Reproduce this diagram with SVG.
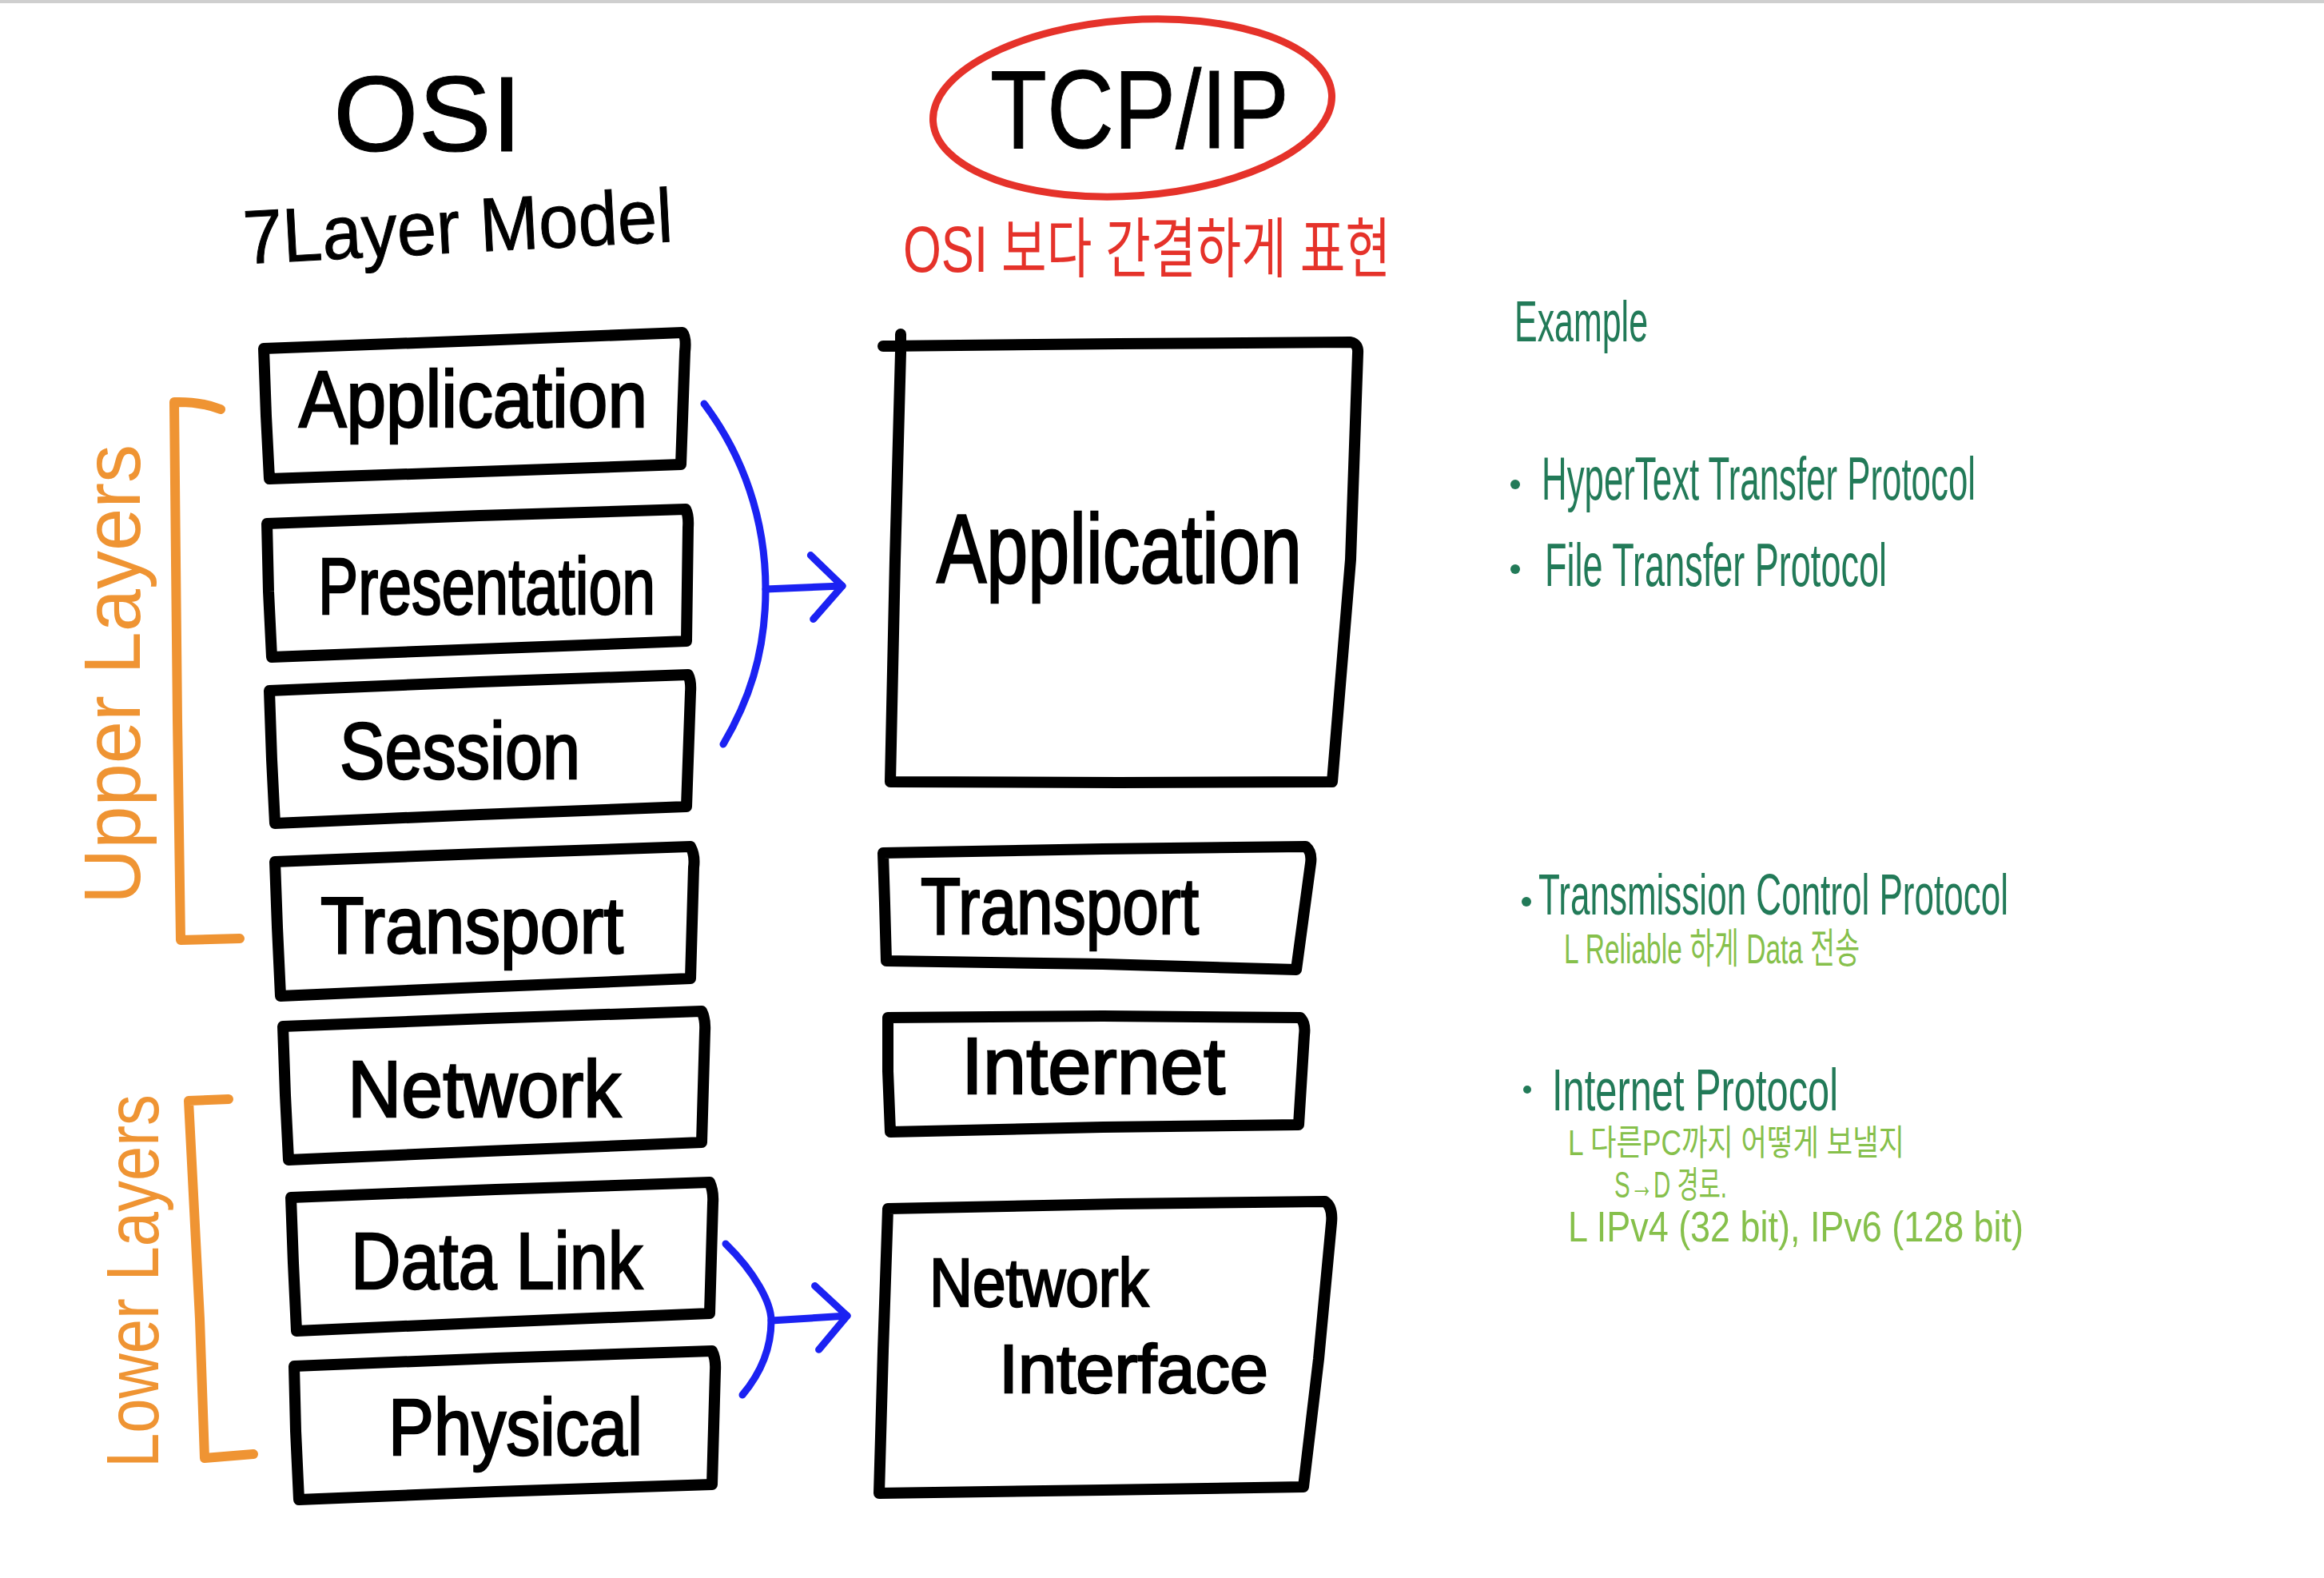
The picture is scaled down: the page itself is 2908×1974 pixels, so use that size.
<svg xmlns="http://www.w3.org/2000/svg" width="2908" height="1974" viewBox="0 0 2908 1974">
<style>
.box{fill:none;stroke:#000;stroke-width:14;stroke-linejoin:round;stroke-linecap:round}
.lbl{font-family:"Liberation Sans",sans-serif;fill:#000;stroke:#000;stroke-width:2.5}
.title{font-family:"Liberation Sans",sans-serif;fill:#000;stroke:#000;stroke-width:1}
.bracket{fill:none;stroke:#ef9433;stroke-width:12;stroke-linecap:round;stroke-linejoin:round}
.side{font-family:"Liberation Sans",sans-serif;fill:#ef9433}
.conn{fill:none;stroke:#1b22f2;stroke-width:9;stroke-linecap:round;stroke-linejoin:round}
.red{font-family:"Liberation Sans","Noto Sans CJK KR",sans-serif;fill:#e5322a}
.g1{font-family:"Liberation Sans","Noto Sans CJK KR",sans-serif;fill:#227a58}
.g2{font-family:"Liberation Sans","Noto Sans CJK KR",sans-serif;fill:#86c04b}
</style>
<defs>
<marker id="chev" markerUnits="userSpaceOnUse" viewBox="-50 -50 60 100" markerWidth="60" markerHeight="100" refX="0" refY="0" orient="auto" overflow="visible">
<path d="M -38 -40 L 0 0 L -38 40" fill="none" stroke="#1b22f2" stroke-width="9" stroke-linecap="round" stroke-linejoin="round"/>
</marker>
</defs>
<rect x="0" y="0" width="2908" height="1974" fill="#ffffff"/>
<rect x="0" y="0" width="2908" height="4" fill="#cfcfcf"/>

<g id="titles">
<text class="title" x="417" y="189" font-size="134" textLength="236" lengthAdjust="spacingAndGlyphs">OSI</text>
<text class="title" x="306" y="330" font-size="95" textLength="538" lengthAdjust="spacingAndGlyphs" transform="rotate(-3 306 330)">7Layer Model</text>
<ellipse cx="1417" cy="135" rx="250" ry="110" transform="rotate(-4 1417 135)" fill="none" stroke="#e5322a" stroke-width="9"/>
<text class="title" x="1239" y="185" font-size="140" textLength="374" lengthAdjust="spacingAndGlyphs">TCP/IP</text>
<text class="red" x="1130" y="340" font-size="82" textLength="610" lengthAdjust="spacingAndGlyphs">OSI 보다 간결하게 표현</text>
</g>

<g id="upper-layers">
<path class="bracket" d="M 276 512 Q 250 502 218 503 L 222 900 L 226 1176 L 300 1174"/>
<text class="side" font-size="100" textLength="575" lengthAdjust="spacingAndGlyphs" transform="translate(175 1131) rotate(-90)">Upper Layers</text>
</g>
<g id="lower-layers">
<path class="bracket" d="M 286 1375 L 236 1377 L 250 1650 L 256 1824 L 317 1819"/>
<text class="side" font-size="92" textLength="467" lengthAdjust="spacingAndGlyphs" transform="translate(198 1836) rotate(-90)">Lower Layers</text>
</g>

<g id="osi-application">
<path class="box" d="M 330 436 L 600 426 L 854 416 Q 859 422 857 440 L 852 581 L 600 590 L 337 599 L 333 520 Z"/>
<text class="lbl" x="374" y="534" font-size="100" textLength="436" lengthAdjust="spacingAndGlyphs">Application</text>
</g>
<g id="osi-presentation">
<path class="box" d="M 334 655 L 600 645 L 858 637 Q 862 645 861 660 L 859 802 L 600 812 L 340 822 L 336 740 Z"/>
<text class="lbl" x="398" y="768" font-size="100" textLength="422" lengthAdjust="spacingAndGlyphs">Presentation</text>
</g>
<g id="osi-session">
<path class="box" d="M 337 864 L 600 853 L 861 844 Q 865 852 864 866 L 859 1009 L 600 1019 L 344 1030 L 340 950 Z"/>
<text class="lbl" x="425" y="974" font-size="100" textLength="301" lengthAdjust="spacingAndGlyphs">Session</text>
</g>
<g id="osi-transport">
<path class="box" d="M 344 1078 L 600 1068 L 864 1059 Q 870 1070 868 1085 L 864 1224 L 600 1235 L 351 1246 L 347 1160 Z"/>
<text class="lbl" x="401" y="1192" font-size="100" textLength="379" lengthAdjust="spacingAndGlyphs">Transport</text>
</g>
<g id="osi-network">
<path class="box" d="M 354 1284 L 610 1274 L 878 1265 Q 883 1275 882 1290 L 878 1429 L 610 1440 L 361 1451 L 357 1370 Z"/>
<text class="lbl" x="435" y="1397" font-size="100" textLength="342" lengthAdjust="spacingAndGlyphs">Network</text>
</g>
<g id="osi-datalink">
<path class="box" d="M 364 1498 L 620 1488 L 888 1479 Q 893 1490 892 1505 L 888 1643 L 620 1654 L 371 1665 L 367 1580 Z"/>
<text class="lbl" x="439" y="1612" font-size="100" textLength="365" lengthAdjust="spacingAndGlyphs">Data Link</text>
</g>
<g id="osi-physical">
<path class="box" d="M 368 1709 L 620 1699 L 891 1690 Q 896 1700 895 1715 L 891 1857 L 620 1866 L 374 1876 L 370 1790 Z"/>
<text class="lbl" x="486" y="1820" font-size="100" textLength="318" lengthAdjust="spacingAndGlyphs">Physical</text>
</g>

<g id="tcp-application">
<path class="box" d="M 1105 433 L 1400 430 L 1690 428 Q 1700 430 1699 442 L 1690 700 L 1667 978 L 1400 979 L 1114 978 L 1120 700 L 1127 440 L 1127 418"/>
<text class="lbl" x="1172" y="729" font-size="122" textLength="457" lengthAdjust="spacingAndGlyphs">Application</text>
</g>
<g id="tcp-transport">
<path class="box" d="M 1105 1067 L 1380 1062 L 1634 1059 Q 1642 1066 1640 1080 L 1622 1213 L 1380 1206 L 1109 1202 L 1107 1130 Z"/>
<text class="lbl" x="1152" y="1168" font-size="100" textLength="348" lengthAdjust="spacingAndGlyphs">Transport</text>
</g>
<g id="tcp-internet">
<path class="box" d="M 1111 1273 L 1380 1271 L 1627 1273 Q 1634 1280 1632 1295 L 1625 1407 L 1380 1410 L 1114 1416 L 1111 1340 Z"/>
<text class="lbl" x="1203" y="1368" font-size="100" textLength="330" lengthAdjust="spacingAndGlyphs">Internet</text>
</g>
<g id="tcp-network-interface">
<path class="box" d="M 1111 1512 L 1400 1506 L 1658 1503 Q 1668 1510 1666 1530 L 1650 1700 L 1631 1860 L 1380 1864 L 1100 1868 L 1105 1690 Z"/>
<text class="lbl" x="1163" y="1634" font-size="86" textLength="274" lengthAdjust="spacingAndGlyphs">Network</text>
<text class="lbl" x="1250" y="1742" font-size="86" textLength="337" lengthAdjust="spacingAndGlyphs">Interface</text>
</g>

<g id="connectors">
<path class="conn" d="M 881 505 C 930 570 958 650 958 737 C 958 820 935 880 905 931"/>
<path class="conn" d="M 958 737 L 1054 733" marker-end="url(#chev)"/>
<path class="conn" d="M 908 1556 C 945 1592 965 1630 965 1652 C 965 1690 950 1720 929 1745"/>
<path class="conn" d="M 965 1652 L 1060 1646" marker-end="url(#chev)"/>
</g>

<g id="examples">
<text class="g1" x="1895" y="427" font-size="72" textLength="167" lengthAdjust="spacingAndGlyphs">Example</text>
<circle cx="1896" cy="606" r="6" fill="#227a58"/>
<text class="g1" x="1929" y="625" font-size="76" textLength="543" lengthAdjust="spacingAndGlyphs">HyperText Transfer Protocol</text>
<circle cx="1896" cy="712" r="6" fill="#227a58"/>
<text class="g1" x="1933" y="733" font-size="76" textLength="428" lengthAdjust="spacingAndGlyphs">File Transfer Protocol</text>
</g>
<g id="tcp-note">
<circle cx="1910" cy="1128" r="6" fill="#227a58"/>
<text class="g1" x="1925" y="1144" font-size="72" textLength="588" lengthAdjust="spacingAndGlyphs">Transmission Control Protocol</text>
<text class="g2" x="1957" y="1205" font-size="52" textLength="370" lengthAdjust="spacingAndGlyphs">L Reliable 하게 Data 전송</text>
</g>
<g id="ip-note">
<circle cx="1911" cy="1363" r="5" fill="#227a58"/>
<text class="g1" x="1942" y="1389" font-size="74" textLength="358" lengthAdjust="spacingAndGlyphs">Internet Protocol</text>
<text class="g2" x="1962" y="1445" font-size="44" textLength="421" lengthAdjust="spacingAndGlyphs">L 다른PC까지 어떻게 보낼지</text>
<text class="g2" x="2020" y="1498" font-size="46" textLength="141" lengthAdjust="spacingAndGlyphs">S→D 경로.</text>
<text class="g2" x="1962" y="1553" font-size="54" textLength="570" lengthAdjust="spacingAndGlyphs">L IPv4 (32 bit), IPv6 (128 bit)</text>
</g>
</svg>
